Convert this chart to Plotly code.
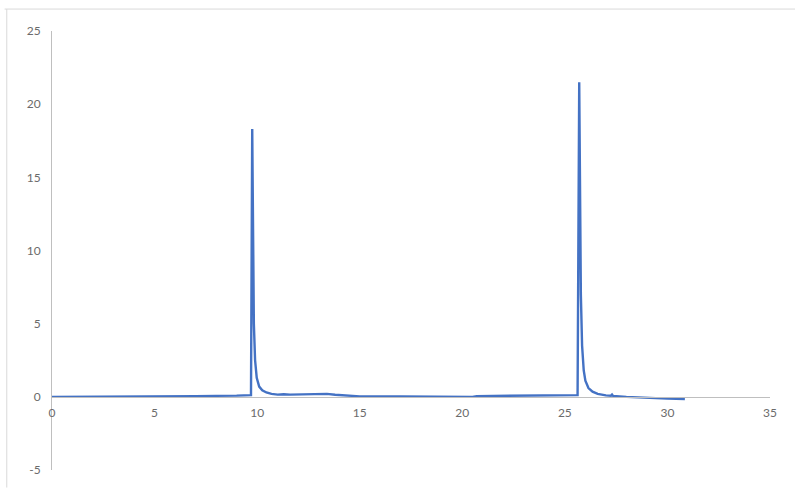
import plotly.graph_objects as go

# Chromatogram trace: retention time (min) and detector signal
time = [0.0, 2.0, 4.6, 4.8, 7.0, 9.0, 9.60, 9.70, 9.76, 9.80, 9.84, 9.90, 9.98,
        10.10, 10.25, 10.45, 10.70, 11.0, 11.3, 11.6, 12.0, 12.5, 13.0, 13.4,
        13.8, 14.3, 15.0, 17.0, 19.0, 20.5, 20.7, 23.0, 25.5, 25.62, 25.70,
        25.74, 25.78, 25.84, 25.92, 26.0, 26.15, 26.35, 26.6, 27.0, 27.25,
        27.3, 27.35, 28.0, 29.0, 30.0, 30.85]
signal = [0.0, 0.0, 0.0, 0.05, 0.05, 0.08, 0.10, 0.12, 18.3, 10.0, 5.0, 2.5, 1.3,
          0.7, 0.45, 0.3, 0.2, 0.15, 0.18, 0.15, 0.16, 0.14, 0.18, 0.2,
          0.14, 0.08, 0.03, 0.02, 0.0, 0.0, 0.05, 0.06, 0.10, 0.12, 21.5,
          13.0, 7.0, 3.5, 1.8, 1.1, 0.6, 0.35, 0.2, 0.1, 0.08,
          0.15, 0.06, 0.0, -0.08, -0.12, -0.15]

x_ticks = [0, 5, 10, 15, 20, 25, 30, 35]
y_ticks = [-5, 0, 5, 10, 15, 20, 25]

axis_color = "#bfbfbf"
label_font = dict(family="Lato, Carlito, Arial", size=12, color="#6b6b6b")

fig = go.Figure()
fig.add_trace(go.Scatter(
    x=time, y=signal, mode="lines",
    line=dict(color="#4472C4", width=2.4),
    hoverinfo="x+y", showlegend=False,
))

fig.update_layout(
    width=795, height=489,
    margin=dict(l=52, r=25, t=31, b=15),
    paper_bgcolor="white", plot_bgcolor="white",
    xaxis=dict(
        range=[0, 35], tickvals=x_ticks, ticktext=[str(v) for v in x_ticks],
        showgrid=False, zeroline=False,
        showline=True, linecolor=axis_color, linewidth=1,
        anchor="free", position=5 / 30, ticks="", ticklabelstandoff=5,
        tickfont=label_font,
    ),
    yaxis=dict(
        range=[-5, 25], tickvals=y_ticks, ticktext=[str(v) for v in y_ticks],
        showgrid=False, zeroline=False,
        showline=True, linecolor=axis_color, linewidth=1, ticks="",
        ticklabelstandoff=8, tickfont=label_font,
    ),
    shapes=[
        dict(type="line", xref="paper", yref="paper",
             x0=-0.066, x1=1.04, y0=1.05, y1=1.05,
             line=dict(color="#d9d9d9", width=1)),
        dict(type="line", xref="paper", yref="paper",
             x0=-0.063, x1=-0.063, y0=-0.04, y1=1.05,
             line=dict(color="#d9d9d9", width=1)),
    ],
)

fig.write_html("out.html")
